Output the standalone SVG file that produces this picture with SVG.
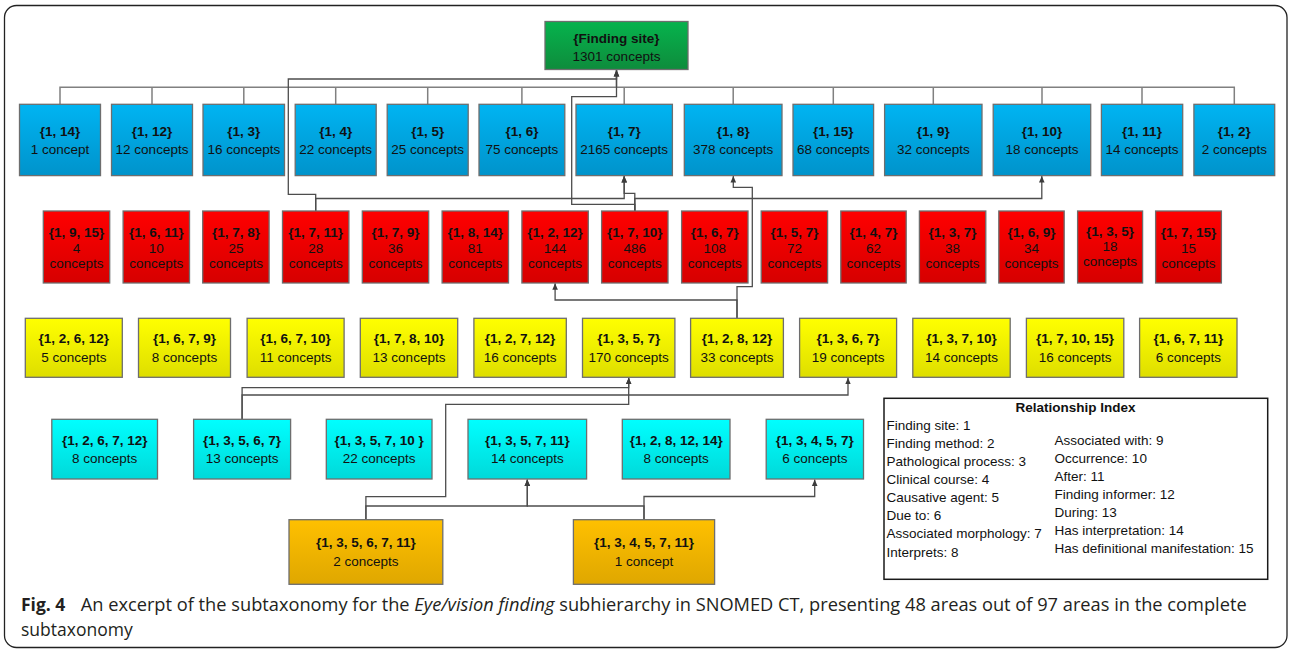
<svg xmlns="http://www.w3.org/2000/svg" width="1290" height="650" viewBox="0 0 1290 650">
  <defs>
    <linearGradient id="gGreen" x1="0" y1="0" x2="0" y2="1">
      <stop offset="0" stop-color="#06b34d"/>
      <stop offset="1" stop-color="#0e8c3c"/>
    </linearGradient>
    <linearGradient id="gBlue" x1="0" y1="0" x2="0" y2="1">
      <stop offset="0" stop-color="#00b4f2"/>
      <stop offset="1" stop-color="#0093cb"/>
    </linearGradient>
    <linearGradient id="gRed" x1="0" y1="0" x2="0" y2="1">
      <stop offset="0" stop-color="#ff0000"/>
      <stop offset="1" stop-color="#d60000"/>
    </linearGradient>
    <linearGradient id="gYellow" x1="0" y1="0" x2="0" y2="1">
      <stop offset="0" stop-color="#ffff00"/>
      <stop offset="1" stop-color="#dede00"/>
    </linearGradient>
    <linearGradient id="gCyan" x1="0" y1="0" x2="0" y2="1">
      <stop offset="0" stop-color="#00ffff"/>
      <stop offset="1" stop-color="#00d9d9"/>
    </linearGradient>
    <linearGradient id="gOrange" x1="0" y1="0" x2="0" y2="1">
      <stop offset="0" stop-color="#ffc000"/>
      <stop offset="1" stop-color="#dfa700"/>
    </linearGradient>
    <marker id="arr" markerWidth="8" markerHeight="8" refX="6.5" refY="3.5" orient="auto" markerUnits="userSpaceOnUse">
      <path d="M0,0.7 L6.5,3.5 L0,6.3 z" fill="#3c3c3c"/>
    </marker>
  </defs>
  <style>
    text { font-family: "Liberation Sans", Arial, sans-serif; font-size: 13.5px; fill: #111; }
    .lbl { text-anchor: middle; }
    .b { font-weight: bold; }
    rect.box { stroke: #6e6e6e; stroke-width: 1.3; }
    .green { fill: url(#gGreen); }
    .blue { fill: url(#gBlue); }
    .red { fill: url(#gRed); }
    .yellow { fill: url(#gYellow); }
    .cyan { fill: url(#gCyan); }
    .orange { fill: url(#gOrange); }
    .tree { fill: none; stroke: #808080; stroke-width: 1.5; }
    .link { fill: none; stroke: #4d4d4d; stroke-width: 1.3; marker-end: url(#arr); }
    .cap { font-family: "Open Sans", "Noto Sans", sans-serif; font-size: 17.5px; fill: #231f20; }
    .legend text { font-size: 13.5px; }
  </style>

  <!-- outer frame -->
  <rect x="4.5" y="5.5" width="1282.5" height="642" rx="12" ry="12" fill="#fff" stroke="#222" stroke-width="1.3"/>

  <!-- connectors -->
  <g id="connectors">
    <!-- root to first level tree -->
    <path class="tree" d="M616.5,69.5 V87.3 M60,104.3 V87.3 H1234.3 V104.3 M152,87.3 V104.3 M243.8,87.3 V104.3 M335.7,87.3 V104.3 M427.7,87.3 V104.3 M521.9,87.3 V104.3 M624.2,87.3 V104.3 M733.2,87.3 V104.3 M833.3,87.3 V104.3 M933.3,87.3 V104.3 M1042,87.3 V104.3 M1142,87.3 V104.3"/>
    <!-- {1,7,11} -->
    <path class="link" d="M315.7,211 V194.3 H288.3 V79 H616.5 V70"/>
    <path class="link" d="M315.7,211 V198.5 H624.2 V176"/>
    <!-- {1,7,10} -->
    <path class="link" d="M634.8,211 V193.3 H624.2 V176"/>
    <path class="link" d="M634.8,211 V198.5 H1041.8 V176"/>
    <path class="link" d="M634.8,211 V204.3 H571.7 V96.7 H616.5 V70"/>
    <!-- {1,2,8,12} -->
    <path class="link" d="M737,318.3 V300 H555.1 V283.3"/>
    <path class="link" d="M737,318.3 V286.7 H752.3 V187.3 H733.3 V176"/>
    <!-- {1,3,5,6,7} -->
    <path class="link" d="M242.1,419.3 V387.7 H628.7 V377.8"/>
    <path class="link" d="M242.1,419.3 V395 H848 V377.8"/>
    <!-- {1,3,5,6,7,11} -->
    <path class="link" d="M365.9,519.7 V496.7 H445.7 V404.3 H628.7 V377.8"/>
    <path class="link" d="M365.9,519.7 V506 H527.3 V479.5"/>
    <!-- {1,3,4,5,7,11} -->
    <path class="link" d="M644,519.7 V506 H527.3 V479.5"/>
    <path class="link" d="M644,519.7 V496.5 H814.7 V479.5"/>
  </g>

  <!-- root -->
  <g id="n-finding-site">
    <rect class="box green" x="545" y="21.5" width="143" height="48"/>
    <text class="lbl"><tspan class="b" x="616.5" y="42.5">{Finding site}</tspan><tspan x="616.5" y="60.8">1301 concepts</tspan></text>
  </g>

  <!-- level 2 (blue) -->
  <g id="n-1-14"><rect class="box blue" x="19.5" y="104.3" width="81" height="71.3"/><text class="lbl"><tspan class="b" x="60" y="135.8">{1, 14}</tspan><tspan x="60" y="154.2">1 concept</tspan></text></g>
  <g id="n-1-12"><rect class="box blue" x="111.5" y="104.3" width="81" height="71.3"/><text class="lbl"><tspan class="b" x="152" y="135.8">{1, 12}</tspan><tspan x="152" y="154.2">12 concepts</tspan></text></g>
  <g id="n-1-3"><rect class="box blue" x="203" y="104.3" width="81.5" height="71.3"/><text class="lbl"><tspan class="b" x="243.8" y="135.8">{1, 3}</tspan><tspan x="243.8" y="154.2">16 concepts</tspan></text></g>
  <g id="n-1-4"><rect class="box blue" x="295.2" y="104.3" width="81" height="71.3"/><text class="lbl"><tspan class="b" x="335.7" y="135.8">{1, 4}</tspan><tspan x="335.7" y="154.2">22 concepts</tspan></text></g>
  <g id="n-1-5"><rect class="box blue" x="387.2" y="104.3" width="81" height="71.3"/><text class="lbl"><tspan class="b" x="427.7" y="135.8">{1, 5}</tspan><tspan x="427.7" y="154.2">25 concepts</tspan></text></g>
  <g id="n-1-6"><rect class="box blue" x="479" y="104.3" width="85.8" height="71.3"/><text class="lbl"><tspan class="b" x="521.9" y="135.8">{1, 6}</tspan><tspan x="521.9" y="154.2">75 concepts</tspan></text></g>
  <g id="n-1-7"><rect class="box blue" x="576" y="104.3" width="96.4" height="71.3"/><text class="lbl"><tspan class="b" x="624.2" y="135.8">{1, 7}</tspan><tspan x="624.2" y="154.2">2165 concepts</tspan></text></g>
  <g id="n-1-8"><rect class="box blue" x="684.3" y="104.3" width="97.7" height="71.3"/><text class="lbl"><tspan class="b" x="733.2" y="135.8">{1, 8}</tspan><tspan x="733.2" y="154.2">378 concepts</tspan></text></g>
  <g id="n-1-15"><rect class="box blue" x="793" y="104.3" width="80.6" height="71.3"/><text class="lbl"><tspan class="b" x="833.3" y="135.8">{1, 15}</tspan><tspan x="833.3" y="154.2">68 concepts</tspan></text></g>
  <g id="n-1-9"><rect class="box blue" x="884.6" y="104.3" width="97.4" height="71.3"/><text class="lbl"><tspan class="b" x="933.3" y="135.8">{1, 9}</tspan><tspan x="933.3" y="154.2">32 concepts</tspan></text></g>
  <g id="n-1-10"><rect class="box blue" x="993.2" y="104.3" width="97.5" height="71.3"/><text class="lbl"><tspan class="b" x="1042" y="135.8">{1, 10}</tspan><tspan x="1042" y="154.2">18 concepts</tspan></text></g>
  <g id="n-1-11"><rect class="box blue" x="1101.4" y="104.3" width="81.3" height="71.3"/><text class="lbl"><tspan class="b" x="1142" y="135.8">{1, 11}</tspan><tspan x="1142" y="154.2">14 concepts</tspan></text></g>
  <g id="n-1-2"><rect class="box blue" x="1193.9" y="104.3" width="80.8" height="71.3"/><text class="lbl"><tspan class="b" x="1234.3" y="135.8">{1, 2}</tspan><tspan x="1234.3" y="154.2">2 concepts</tspan></text></g>

  <!-- level 3 (red) -->
  <g id="n-1-9-15"><rect class="box red" x="43.3" y="211" width="66.4" height="72"/><text class="lbl"><tspan class="b" x="76.5" y="236.5">{1, 9, 15}</tspan><tspan x="76.5" y="252.5">4</tspan><tspan x="76.5" y="267.5">concepts</tspan></text></g>
  <g id="n-1-6-11"><rect class="box red" x="123.1" y="211" width="66.4" height="72"/><text class="lbl"><tspan class="b" x="156.3" y="236.5">{1, 6, 11}</tspan><tspan x="156.3" y="252.5">10</tspan><tspan x="156.3" y="267.5">concepts</tspan></text></g>
  <g id="n-1-7-8"><rect class="box red" x="202.7" y="211" width="66.4" height="72"/><text class="lbl"><tspan class="b" x="235.9" y="236.5">{1, 7, 8}</tspan><tspan x="235.9" y="252.5">25</tspan><tspan x="235.9" y="267.5">concepts</tspan></text></g>
  <g id="n-1-7-11"><rect class="box red" x="282.5" y="211" width="66.4" height="72"/><text class="lbl"><tspan class="b" x="315.7" y="236.5">{1, 7, 11}</tspan><tspan x="315.7" y="252.5">28</tspan><tspan x="315.7" y="267.5">concepts</tspan></text></g>
  <g id="n-1-7-9"><rect class="box red" x="362.3" y="211" width="66.4" height="72"/><text class="lbl"><tspan class="b" x="395.5" y="236.5">{1, 7, 9}</tspan><tspan x="395.5" y="252.5">36</tspan><tspan x="395.5" y="267.5">concepts</tspan></text></g>
  <g id="n-1-8-14"><rect class="box red" x="442.1" y="211" width="66.4" height="72"/><text class="lbl"><tspan class="b" x="475.3" y="236.5">{1, 8, 14}</tspan><tspan x="475.3" y="252.5">81</tspan><tspan x="475.3" y="267.5">concepts</tspan></text></g>
  <g id="n-1-2-12"><rect class="box red" x="521.9" y="211" width="66.4" height="72"/><text class="lbl"><tspan class="b" x="555.1" y="236.5">{1, 2, 12}</tspan><tspan x="555.1" y="252.5">144</tspan><tspan x="555.1" y="267.5">concepts</tspan></text></g>
  <g id="n-1-7-10"><rect class="box red" x="601.6" y="211" width="66.4" height="72"/><text class="lbl"><tspan class="b" x="634.8" y="236.5">{1, 7, 10}</tspan><tspan x="634.8" y="252.5">486</tspan><tspan x="634.8" y="267.5">concepts</tspan></text></g>
  <g id="n-1-6-7"><rect class="box red" x="681.6" y="211" width="66.4" height="72"/><text class="lbl"><tspan class="b" x="714.8" y="236.5">{1, 6, 7}</tspan><tspan x="714.8" y="252.5">108</tspan><tspan x="714.8" y="267.5">concepts</tspan></text></g>
  <g id="n-1-5-7"><rect class="box red" x="761.2" y="211" width="66.4" height="72"/><text class="lbl"><tspan class="b" x="794.4" y="236.5">{1, 5, 7}</tspan><tspan x="794.4" y="252.5">72</tspan><tspan x="794.4" y="267.5">concepts</tspan></text></g>
  <g id="n-1-4-7"><rect class="box red" x="840.8" y="211" width="65.4" height="72"/><text class="lbl"><tspan class="b" x="873.5" y="236.5">{1, 4, 7}</tspan><tspan x="873.5" y="252.5">62</tspan><tspan x="873.5" y="267.5">concepts</tspan></text></g>
  <g id="n-1-3-7"><rect class="box red" x="919.4" y="211" width="66.4" height="72"/><text class="lbl"><tspan class="b" x="952.6" y="236.5">{1, 3, 7}</tspan><tspan x="952.6" y="252.5">38</tspan><tspan x="952.6" y="267.5">concepts</tspan></text></g>
  <g id="n-1-6-9"><rect class="box red" x="998.8" y="211" width="65.4" height="72"/><text class="lbl"><tspan class="b" x="1031.5" y="236.5">{1, 6, 9}</tspan><tspan x="1031.5" y="252.5">34</tspan><tspan x="1031.5" y="267.5">concepts</tspan></text></g>
  <g id="n-1-3-5"><rect class="box red" x="1077.6" y="211" width="65" height="72"/><text class="lbl"><tspan class="b" x="1110.1" y="235.5">{1, 3, 5}</tspan><tspan x="1110.1" y="250.8">18</tspan><tspan x="1110.1" y="265.8">concepts</tspan></text></g>
  <g id="n-1-7-15"><rect class="box red" x="1155.6" y="211" width="65.8" height="72"/><text class="lbl"><tspan class="b" x="1188.5" y="236.5">{1, 7, 15}</tspan><tspan x="1188.5" y="252.5">15</tspan><tspan x="1188.5" y="267.5">concepts</tspan></text></g>

  <!-- level 4 (yellow) -->
  <g id="n-1-2-6-12"><rect class="box yellow" x="25.3" y="318.3" width="97" height="59"/><text class="lbl"><tspan class="b" x="73.8" y="343.2">{1, 2, 6, 12}</tspan><tspan x="73.8" y="361.5">5 concepts</tspan></text></g>
  <g id="n-1-6-7-9"><rect class="box yellow" x="138.5" y="318.3" width="92" height="59"/><text class="lbl"><tspan class="b" x="184.5" y="343.2">{1, 6, 7, 9}</tspan><tspan x="184.5" y="361.5">8 concepts</tspan></text></g>
  <g id="n-1-6-7-10"><rect class="box yellow" x="247.1" y="318.3" width="97" height="59"/><text class="lbl"><tspan class="b" x="295.6" y="343.2">{1, 6, 7, 10}</tspan><tspan x="295.6" y="361.5">11 concepts</tspan></text></g>
  <g id="n-1-7-8-10"><rect class="box yellow" x="360.3" y="318.3" width="97.4" height="59"/><text class="lbl"><tspan class="b" x="409" y="343.2">{1, 7, 8, 10}</tspan><tspan x="409" y="361.5">13 concepts</tspan></text></g>
  <g id="n-1-2-7-12"><rect class="box yellow" x="473.9" y="318.3" width="92.4" height="59"/><text class="lbl"><tspan class="b" x="520.1" y="343.2">{1, 2, 7, 12}</tspan><tspan x="520.1" y="361.5">16 concepts</tspan></text></g>
  <g id="n-1-3-5-7"><rect class="box yellow" x="582.5" y="318.3" width="92.4" height="59"/><text class="lbl"><tspan class="b" x="628.7" y="343.2">{1, 3, 5, 7}</tspan><tspan x="628.7" y="361.5">170 concepts</tspan></text></g>
  <g id="n-1-2-8-12"><rect class="box yellow" x="690.6" y="318.3" width="92.8" height="59"/><text class="lbl"><tspan class="b" x="737" y="343.2">{1, 2, 8, 12}</tspan><tspan x="737" y="361.5">33 concepts</tspan></text></g>
  <g id="n-1-3-6-7"><rect class="box yellow" x="799.6" y="318.3" width="97" height="59"/><text class="lbl"><tspan class="b" x="848.1" y="343.2">{1, 3, 6, 7}</tspan><tspan x="848.1" y="361.5">19 concepts</tspan></text></g>
  <g id="n-1-3-7-10"><rect class="box yellow" x="912.8" y="318.3" width="97.4" height="59"/><text class="lbl"><tspan class="b" x="961.5" y="343.2">{1, 3, 7, 10}</tspan><tspan x="961.5" y="361.5">14 concepts</tspan></text></g>
  <g id="n-1-7-10-15"><rect class="box yellow" x="1026.4" y="318.3" width="97.4" height="59"/><text class="lbl"><tspan class="b" x="1075.1" y="343.2">{1, 7, 10, 15}</tspan><tspan x="1075.1" y="361.5">16 concepts</tspan></text></g>
  <g id="n-1-6-7-11"><rect class="box yellow" x="1139.6" y="318.3" width="97.4" height="59"/><text class="lbl"><tspan class="b" x="1188.3" y="343.2">{1, 6, 7, 11}</tspan><tspan x="1188.3" y="361.5">6 concepts</tspan></text></g>

  <!-- level 5 (cyan) -->
  <g id="n-1-2-6-7-12"><rect class="box cyan" x="51.8" y="419.3" width="105.7" height="59.7"/><text class="lbl"><tspan class="b" x="104.7" y="444.8">{1, 2, 6, 7, 12}</tspan><tspan x="104.7" y="463.2">8 concepts</tspan></text></g>
  <g id="n-1-3-5-6-7"><rect class="box cyan" x="193.6" y="419.3" width="97" height="59.7"/><text class="lbl"><tspan class="b" x="242.1" y="444.8">{1, 3, 5, 6, 7}</tspan><tspan x="242.1" y="463.2">13 concepts</tspan></text></g>
  <g id="n-1-3-5-7-10"><rect class="box cyan" x="326.3" y="419.3" width="105.7" height="59.7"/><text class="lbl"><tspan class="b" x="379.2" y="444.8">{1, 3, 5, 7, 10 }</tspan><tspan x="379.2" y="463.2">22 concepts</tspan></text></g>
  <g id="n-1-3-5-7-11"><rect class="box cyan" x="468" y="419.3" width="118.6" height="59.7"/><text class="lbl"><tspan class="b" x="527.3" y="444.8">{1, 3, 5, 7, 11}</tspan><tspan x="527.3" y="463.2">14 concepts</tspan></text></g>
  <g id="n-1-2-8-12-14"><rect class="box cyan" x="622.3" y="419.3" width="107.7" height="59.7"/><text class="lbl"><tspan class="b" x="676.2" y="444.8">{1, 2, 8, 12, 14}</tspan><tspan x="676.2" y="463.2">8 concepts</tspan></text></g>
  <g id="n-1-3-4-5-7"><rect class="box cyan" x="766.2" y="419.3" width="97.3" height="59.7"/><text class="lbl"><tspan class="b" x="814.8" y="444.8">{1, 3, 4, 5, 7}</tspan><tspan x="814.8" y="463.2">6 concepts</tspan></text></g>

  <!-- level 6 (orange) -->
  <g id="n-1-3-5-6-7-11"><rect class="box orange" x="289" y="519.7" width="153.8" height="64.6"/><text class="lbl"><tspan class="b" x="365.9" y="547.2">{1, 3, 5, 6, 7, 11}</tspan><tspan x="365.9" y="565.5">2 concepts</tspan></text></g>
  <g id="n-1-3-4-5-7-11"><rect class="box orange" x="573.4" y="519.7" width="141.2" height="64.6"/><text class="lbl"><tspan class="b" x="644" y="547.2">{1, 3, 4, 5, 7, 11}</tspan><tspan x="644" y="565.5">1 concept</tspan></text></g>

  <!-- relationship index -->
  <g id="legend" class="legend">
    <rect x="884" y="398.3" width="383.7" height="181" fill="#fff" stroke="#1a1a1a" stroke-width="1.5"/>
    <text class="b" x="1075.5" y="412.2" text-anchor="middle">Relationship Index</text>
    <text x="886.5" y="429.8">Finding site: 1</text>
    <text x="886.5" y="447.9">Finding method: 2</text>
    <text x="886.5" y="466">Pathological process: 3</text>
    <text x="886.5" y="484.1">Clinical course: 4</text>
    <text x="886.5" y="502.2">Causative agent: 5</text>
    <text x="886.5" y="520.3">Due to: 6</text>
    <text x="886.5" y="538.4">Associated morphology: 7</text>
    <text x="886.5" y="556.5">Interprets: 8</text>
    <text x="1054.6" y="444.8">Associated with: 9</text>
    <text x="1054.6" y="462.8">Occurrence: 10</text>
    <text x="1054.6" y="480.8">After: 11</text>
    <text x="1054.6" y="499.2">Finding informer: 12</text>
    <text x="1054.6" y="517.2">During: 13</text>
    <text x="1054.6" y="535.2">Has interpretation: 14</text>
    <text x="1054.6" y="553.2">Has definitional manifestation: 15</text>
  </g>

  <!-- caption -->
  <g id="caption">
    <text class="cap" x="21" y="611" font-weight="bold">Fig. 4</text>
    <text class="cap" x="80.7" y="611" textLength="1166" lengthAdjust="spacingAndGlyphs">An excerpt of the subtaxonomy for the <tspan font-style="italic">Eye/vision finding</tspan> subhierarchy in SNOMED CT, presenting 48 areas out of 97 areas in the complete</text>
    <text class="cap" x="21" y="636">subtaxonomy</text>
  </g>
</svg>
